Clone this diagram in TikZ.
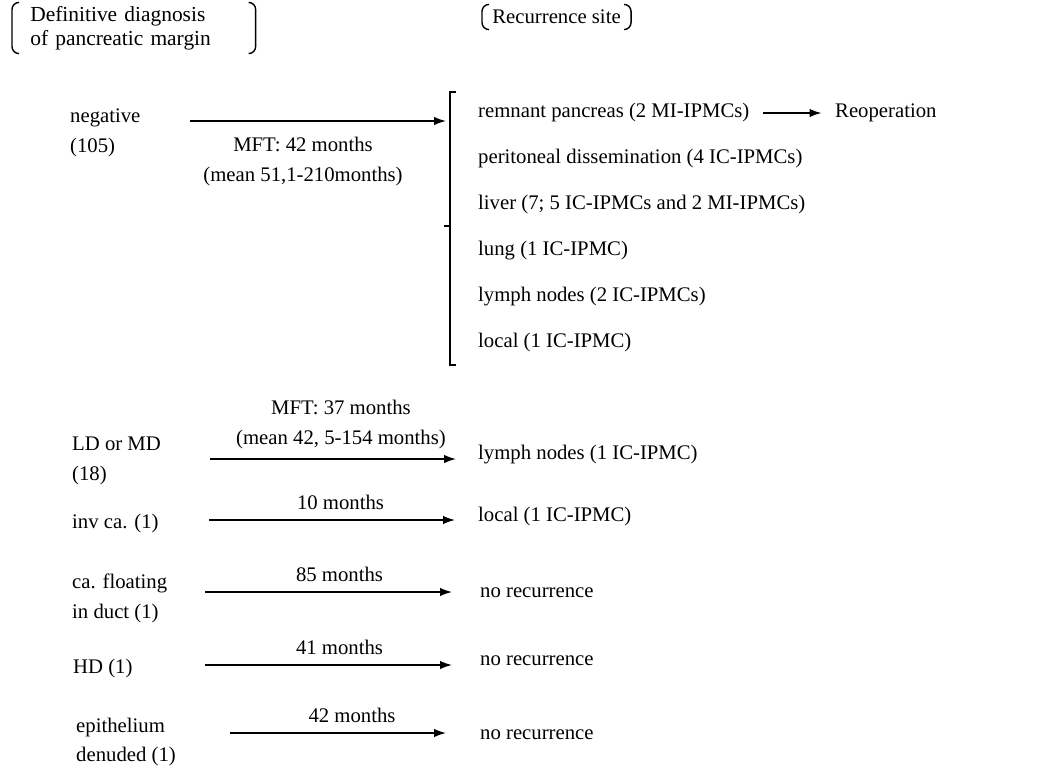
\documentclass[tikz,border=0pt]{standalone}
\usepackage{fontspec}
\setmainfont{Liberation Serif}
\usetikzlibrary{positioning, arrows.meta}

% round brackets drawn on the left and right border of a node
\newcommand{\drawparens}[1]{%
  \draw[paren] ([xshift=4pt]#1.north west) -- (#1.north west) -- (#1.south west) -- ([xshift=4pt]#1.south west);
  \draw[paren] ([xshift=-4pt]#1.north east) -- (#1.north east) -- (#1.south east) -- ([xshift=-4pt]#1.south east);}

\begin{document}
\begin{tikzpicture}[x=0.02cm, y=-0.02cm,
    every node/.style={font=\fontsize{11.8}{17}\selectfont},
    txt/.style={anchor=west, align=left},
    site/.style={anchor=west},
    mft/.style={align=center},
    arr/.style={-{Latex[length=2.4mm, width=1.7mm]}, line width=0.8pt},
    paren/.style={line width=0.8pt, rounded corners=4pt}]

    \useasboundingbox (0,0) rectangle (1045,769);

    % headings
    \node[txt, text width=4.14cm, inner xsep=0.36cm, inner ysep=2pt, font=\fontsize{12.2}{13.5}\selectfont] (diag) at (12,28) {Definitive diagnosis\\of pancreatic margin};
    \drawparens{diag}
    \node[txt, inner xsep=0.2cm, inner ysep=3pt] (site) at (482,17) {Recurrence site};
    \drawparens{site}

    % negative margin
    \node[txt] (neg) at (64,133) {negative\\(105)};
    \coordinate (negtail) at (190,121);
    \coordinate (brk) at (446,121);
    \draw[arr] (negtail) -- node[below=2mm, xshift=-0.3cm, mft] (negmft) {MFT: 42 months\\(mean 51,1-210months)} (brk);

    \draw[line width=0.8pt] (456,92) -- (450,92) -- (450,365) -- (456,365);
    \draw[line width=0.8pt] (450,226) -- (444,226);

    \node[site] (rem) at (472,113) {remnant pancreas (2 MI-IPMCs)};
    \node[below=9.2mm of rem.west, site] (peri) {peritoneal dissemination (4 IC-IPMCs)};
    \node[below=9.2mm of peri.west, site] (liver) {liver (7; 5 IC-IPMCs and 2 MI-IPMCs)};
    \node[below=9.2mm of liver.west, site] (lung) {lung (1 IC-IPMC)};
    \node[below=9.2mm of lung.west, site] (lymph) {lymph nodes (2 IC-IPMCs)};
    \node[below=9.2mm of lymph.west, site] (local) {local (1 IC-IPMC)};

    \node[site] (reop) at (829,113) {Reoperation};
    \draw[arr, shorten <=0.15cm, shorten >=0.15cm] (rem) -- (reop);

    % positive margin
    \node[txt] (ldmd) at (66,461) {LD or MD\\(18)};
    \coordinate (ldtail) at (210,459);
    \node[site] (ldsite) at (472,455) {lymph nodes (1 IC-IPMC)};
    \draw[arr, shorten >=0.32cm] (ldtail) -- node[above=0.7mm, mft] (ldmft) {MFT: 37 months\\(mean 42, 5-154 months)} (ldtail -| ldsite.west);

    \node[txt] (inv) at (66,523) {inv ca. (1)};
    \coordinate (invtail) at (209,520);
    \node[site] (invsite) at (472,517) {local (1 IC-IPMC)};
    \draw[arr, shorten >=0.34cm] (invtail) -- node[above=0.7mm, mft] (invmft) {10 months} (invtail -| invsite.west);

    \node[txt] (float) at (66,598) {ca. floating\\in duct (1)};
    \coordinate (floattail) at (205,592);
    \node[site] (floatsite) at (474,593) {no recurrence};
    \draw[arr, shorten >=0.44cm] (floattail) -- node[above=0.7mm, mft] (floatmft) {85 months} (floattail -| floatsite.west);

    \node[txt] (hd) at (67,668) {HD (1)};
    \coordinate (hdtail) at (205,665);
    \node[site] (hdsite) at (474,661) {no recurrence};
    \draw[arr, shorten >=0.44cm] (hdtail) -- node[above=0.7mm, mft] (hdmft) {41 months} (hdtail -| hdsite.west);

    \node[txt] (epi) at (70,742) {epithelium\\denuded (1)};
    \coordinate (epitail) at (230,733);
    \node[site] (episite) at (474,735) {no recurrence};
    \draw[arr, shorten >=0.56cm] (epitail) -- node[above=0.7mm, mft] (epimft) {42 months} (epitail -| episite.west);
\end{tikzpicture}
\end{document}
